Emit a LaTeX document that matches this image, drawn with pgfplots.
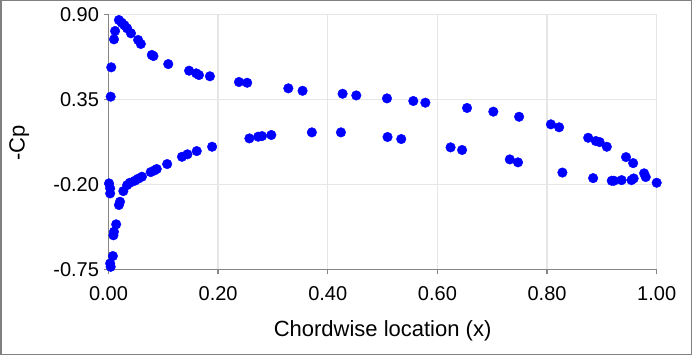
\documentclass[border=0pt]{standalone}
\usepackage{fontspec}
\setmainfont{Liberation Sans}
\usepackage{pgfplots}
\pgfplotsset{compat=1.18}
\definecolor{axgray}{RGB}{134,134,134}
\definecolor{gridgray}{RGB}{230,230,230}
\definecolor{framegray}{RGB}{128,128,128}
\definecolor{ptblue}{RGB}{0,0,255}
\begin{document}
\begin{tikzpicture}
\useasboundingbox (0,0) rectangle (692bp,355bp);
\begin{axis}[
  at={(108.5bp,85.7bp)}, anchor=south west,
  scale only axis, width=548.2bp, height=255bp,
  xmin=0, xmax=1, ymin=-0.75, ymax=0.9,
  axis lines*=left,
  axis line style={draw=axgray, line width=1.3bp},
  xtick={0,0.2,0.4,0.6,0.8,1.0},
  xticklabels={0.00,0.20,0.40,0.60,0.80,1.00},
  ytick={-0.75,-0.2,0.35,0.9},
  yticklabels={-0.75,-0.20,0.35,0.90},
  tick align=outside,
  major tick length=5bp,
  tick style={draw=axgray, line width=1.3bp},
  grid=major,
  major grid style={draw=gridgray, line width=1.3bp},
  ticklabel style={font=\fontsize{20bp}{23bp}\selectfont, text=black},
  x tick label style={yshift=-9bp},
  y tick label style={xshift=-1bp},
  xlabel={Chordwise location (x)},
  ylabel={-Cp},
  label style={font=\fontsize{22bp}{25bp}\selectfont},
  xlabel style={at={(axis description cs:0.5,-0.264)}, anchor=base},
  ylabel style={at={(axis description cs:-0.163,0.495)}, anchor=center},
  clip=false,
]
\addplot[only marks, mark=*, mark size=4.8bp, draw=ptblue, fill=ptblue] coordinates {
(0.004,0.367) (0.005,0.557) (0.010,0.738) (0.012,0.792)
(0.019,0.863) (0.024,0.846) (0.029,0.829) (0.034,0.809) (0.041,0.777)
(0.054,0.734) (0.059,0.708) (0.079,0.637) (0.082,0.630) (0.109,0.578)
(0.147,0.535) (0.160,0.518) (0.165,0.507) (0.185,0.499)
(0.238,0.462) (0.253,0.457) (0.328,0.421) (0.354,0.405)
(0.427,0.386) (0.452,0.375) (0.508,0.356) (0.556,0.339) (0.578,0.328)
(0.654,0.294) (0.702,0.270) (0.749,0.237) (0.807,0.188) (0.822,0.169)
(0.875,0.101) (0.889,0.080) (0.896,0.073) (0.909,0.043)
(0.944,-0.024) (0.957,-0.063) (0.977,-0.129) (0.980,-0.153) (1.000,-0.190)
};
\addplot[only marks, mark=*, mark size=4.8bp, draw=ptblue, fill=ptblue] coordinates {
(0.001,-0.194) (0.003,-0.226) (0.003,-0.259) (0.003,-0.712) (0.004,-0.734)
(0.008,-0.664) (0.009,-0.530) (0.010,-0.507) (0.014,-0.459)
(0.019,-0.334) (0.021,-0.313) (0.027,-0.244) (0.034,-0.205) (0.039,-0.190)
(0.048,-0.177) (0.054,-0.164) (0.061,-0.151) (0.077,-0.121) (0.084,-0.110)
(0.088,-0.101) (0.107,-0.069) (0.134,-0.022) (0.144,-0.006) (0.161,0.015)
(0.189,0.043) (0.257,0.097) (0.273,0.108) (0.280,0.112) (0.297,0.119)
(0.371,0.136) (0.424,0.136) (0.509,0.106) (0.534,0.093)
(0.624,0.039) (0.645,0.022) (0.732,-0.039) (0.747,-0.058)
(0.828,-0.124) (0.884,-0.160) (0.918,-0.177) (0.922,-0.177)
(0.936,-0.173) (0.954,-0.173) (0.958,-0.162)
};
\end{axis}
\draw[framegray, line width=1.5bp] (0.75bp,0.75bp) rectangle (691.25bp,354.25bp);
\end{tikzpicture}
\end{document}
